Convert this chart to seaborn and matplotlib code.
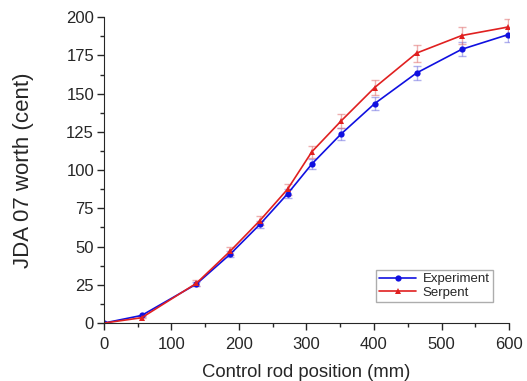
import matplotlib
matplotlib.use("Agg")
import matplotlib.pyplot as plt
import numpy as np
import pandas as pd
import seaborn as sns
from matplotlib.ticker import MultipleLocator

# control rod position (mm)
position = [0, 56, 137, 187, 231, 272, 308, 351, 401, 463, 530, 598]
experiment = [0, 5, 25.5, 45, 64.5, 84.5, 104, 123.5, 143.5, 163.5, 179, 188.5]
serpent = [0, 3.5, 26, 47, 67, 87.5, 112, 132, 154, 176.5, 188, 193.5]
exp_err = [0.3, 0.5, 1.5, 2.0, 2.5, 3.0, 3.2, 3.8, 4.2, 4.6, 4.6, 4.8]
serp_err = [0.3, 0.5, 2.0, 2.5, 3.0, 3.5, 4.0, 4.5, 5.0, 5.5, 5.5, 5.5]

df = pd.DataFrame({
    "pos": position * 2,
    "worth": experiment + serpent,
    "source": ["Experiment"] * len(position) + ["Serpent"] * len(position),
})

sns.set_style("ticks")
plt.rcParams["font.family"] = ["Liberation Sans", "DejaVu Sans"]

fig = plt.figure(figsize=(5.27, 3.81), dpi=100)
ax = fig.add_axes([0.197, 0.152, 0.769, 0.803])

# error bars (faded)
ax.errorbar(position, experiment, yerr=exp_err, fmt="none", ecolor="#7070e0",
            alpha=0.55, capsize=3, elinewidth=1, capthick=1)
ax.errorbar(position, serpent, yerr=serp_err, fmt="none", ecolor="#e07070",
            alpha=0.55, capsize=3, elinewidth=1, capthick=1)

sns.lineplot(data=df, x="pos", y="worth", hue="source", style="source",
             palette={"Experiment": "#1010e0", "Serpent": "#e02020"},
             markers={"Experiment": "o", "Serpent": "^"}, dashes=False,
             markersize=4.5, markeredgewidth=0, linewidth=1.2, ax=ax)

ax.set_xlim(0, 600)
ax.set_ylim(0, 200)
ax.xaxis.set_major_locator(MultipleLocator(100))
ax.xaxis.set_minor_locator(MultipleLocator(50))
ax.yaxis.set_major_locator(MultipleLocator(25))
ax.yaxis.set_minor_locator(MultipleLocator(12.5))
ax.tick_params(which="major", direction="out", length=5, width=1, labelsize=12)
ax.tick_params(axis="x", which="major", pad=5)
ax.tick_params(axis="y", which="major", pad=2)
ax.tick_params(which="minor", direction="out", length=3, width=1)
sns.despine(ax=ax)
ax.set_xlabel("Control rod position (mm)", fontsize=13.3, labelpad=9)
ax.set_ylabel("JDA 07 worth (cent)", fontsize=16, labelpad=23)

leg = ax.legend(loc="lower right", bbox_to_anchor=(0.96, 0.069), fontsize=9.5,
                frameon=True, fancybox=False, edgecolor="#999999",
                handlelength=2.8, handletextpad=0.5, borderpad=0.25,
                labelspacing=0.1, borderaxespad=0, title=None)
leg.get_frame().set_linewidth(1)

fig.savefig("out.png", dpi=100)
